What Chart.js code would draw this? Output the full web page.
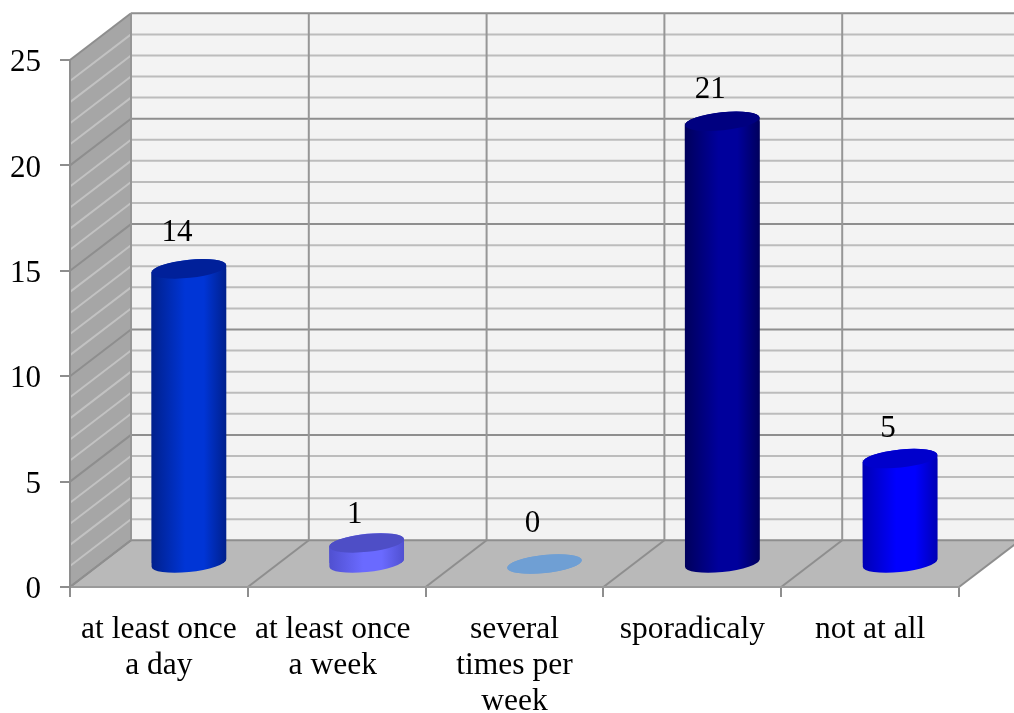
<!DOCTYPE html>
<html>
<head>
<meta charset="utf-8">
<title>Frequency</title>
<script src="https://cdn.jsdelivr.net/npm/chart.js@4"></script>
<style>
  html, body { margin: 0; padding: 0; background: #fff; overflow: hidden; }
  canvas { display: block; }
</style>
</head>
<body>
<canvas id="freq-chart" width="1014" height="713"></canvas>
<script>
// values
const categories = [
  ["at least once", "a day"],
  ["at least once ", "a week "],
  ["several", "times per", "week"],
  "sporadicaly",
  "not at all",
];
const values = [14, 1, 0, 21, 5];
const yMax = 25;
const yStep = 5;

// colours of each cylinder: edge, centre, top cap
const edgeColors = ["#00208c", "#5050d0", "#6f9fd4", "#00005c", "#0000b4"];
const midColors = ["#0035d6", "#6a6aff", "#6f9fd4", "#00009c", "#0000ff"];
const capColors = ["#00209a", "#4e4ec6", "#6f9fd4", "#000080", "#0000cc"];

// label height above the cap
const labelLift = [36, 28, 40, 31, 30];

// 3d box depth
const depthX = 61;
const depthY = -46.7;
// cylinders stand in the middle of the box
const barShiftX = 30;
const barShiftY = -23;
const capTilt = (-6 * Math.PI) / 180;
const capRy = 9;

const serif = "'Liberation Serif', 'Times New Roman', serif";

function bodyFill(c) {
  const chart = c.chart;
  if (!chart.chartArea) return midColors[c.dataIndex];
  const cx = chart.scales.x.getPixelForValue(c.dataIndex);
  const hw = 37.5;
  const g = chart.ctx.createLinearGradient(cx - hw, 0, cx + hw, 0);
  g.addColorStop(0, edgeColors[c.dataIndex]);
  g.addColorStop(0.45, midColors[c.dataIndex]);
  g.addColorStop(0.7, midColors[c.dataIndex]);
  g.addColorStop(1, edgeColors[c.dataIndex]);
  return g;
}

function silhouette(ctx, bar) {
  const rx = bar.width / 2;
  const t0 = Math.atan2(-capRy * Math.sin(capTilt), rx * Math.cos(capTilt));
  ctx.moveTo(bar.x - rx, bar.y);
  ctx.ellipse(bar.x, bar.y, rx, capRy, capTilt, Math.PI + t0, t0);
  ctx.ellipse(bar.x, bar.base, rx, capRy, capTilt, t0, Math.PI + t0);
  ctx.closePath();
}

function line(ctx, x1, y1, x2, y2) {
  ctx.beginPath();
  ctx.moveTo(x1, y1);
  ctx.lineTo(x2, y2);
  ctx.stroke();
}

// back wall, side wall and floor
const boxPlugin = {
  id: "box",
  beforeDraw(chart) {
    const { ctx, chartArea: a, scales } = chart;
    const y = scales.y;
    const step = (a.right - a.left) / categories.length;
    const zero = y.getPixelForValue(0);
    const top = y.getPixelForValue(yMax);

    ctx.save();
    ctx.fillStyle = "#f3f3f3";
    ctx.fillRect(a.left + depthX, top + depthY, a.right - a.left, zero - top);

    ctx.fillStyle = "#a6a6a6";
    ctx.beginPath();
    ctx.moveTo(a.left, top);
    ctx.lineTo(a.left + depthX, top + depthY);
    ctx.lineTo(a.left + depthX, zero + depthY);
    ctx.lineTo(a.left, zero);
    ctx.closePath();
    ctx.fill();

    ctx.fillStyle = "#b9b9b9";
    ctx.beginPath();
    ctx.moveTo(a.left, zero);
    ctx.lineTo(a.right, zero);
    ctx.lineTo(a.right + depthX, zero + depthY);
    ctx.lineTo(a.left + depthX, zero + depthY);
    ctx.closePath();
    ctx.fill();

    // horizontal lines, one per unit
    ctx.lineWidth = 2;
    for (let v = 1; v <= yMax; v++) {
      if (v % yStep === 0) continue;
      const py = y.getPixelForValue(v);
      ctx.strokeStyle = "#bcbcbc";
      line(ctx, a.left + depthX, py + depthY, a.right + depthX, py + depthY);
      ctx.strokeStyle = "#c2c2c2";
      line(ctx, a.left, py, a.left + depthX, py + depthY);
    }
    for (let v = 0; v <= yMax; v += yStep) {
      const py = y.getPixelForValue(v);
      ctx.strokeStyle = "#8e8e8e";
      line(ctx, a.left + depthX, py + depthY, a.right + depthX, py + depthY);
      line(ctx, a.left, py, a.left + depthX, py + depthY);
    }

    // verticals on the back wall and their lines across the floor
    for (let i = 0; i <= categories.length; i++) {
      const px = a.left + i * step;
      ctx.strokeStyle = "#969696";
      line(ctx, px + depthX, top + depthY, px + depthX, zero + depthY);
      ctx.strokeStyle = "#8e8e8e";
      line(ctx, px, zero, px + depthX, zero + depthY);
    }
    ctx.restore();
  },
};

// turns the flat bars into cylinders standing inside the box
const cylinderPlugin = {
  id: "cylinders",
  beforeDatasetsDraw(chart) {
    const { ctx } = chart;
    const bars = chart.getDatasetMeta(0).data;
    ctx.save();
    ctx.translate(barShiftX, barShiftY);
    ctx.save();
    ctx.beginPath();
    bars.forEach((bar) => silhouette(ctx, bar));
    ctx.clip();
  },
  afterDatasetsDraw(chart) {
    const { ctx } = chart;
    const bars = chart.getDatasetMeta(0).data;
    ctx.restore();
    bars.forEach((bar, i) => {
      const rx = bar.width / 2;
      ctx.fillStyle = bar.options.backgroundColor;
      ctx.beginPath();
      silhouette(ctx, bar);
      ctx.fill();
      ctx.fillStyle = capColors[i];
      ctx.beginPath();
      ctx.ellipse(bar.x, bar.y, rx, capRy, capTilt, 0, Math.PI * 2);
      ctx.fill();
    });
    ctx.restore();

    ctx.save();
    ctx.font = "31px " + serif;
    ctx.fillStyle = "#000";
    ctx.textAlign = "center";
    ctx.textBaseline = "middle";
    bars.forEach((bar, i) => {
      ctx.fillText(String(values[i]), bar.x + barShiftX - 12, bar.y + barShiftY - labelLift[i]);
    });
    ctx.restore();
  },
};

new Chart(document.getElementById("freq-chart"), {
  type: "bar",
  data: {
    labels: categories,
    datasets: [
      {
        data: values,
        backgroundColor: bodyFill,
        borderWidth: 0,
        barPercentage: 0.422,
        categoryPercentage: 1,
        clip: false,
      },
    ],
  },
  options: {
    responsive: false,
    animation: false,
    layout: { padding: { top: 60, right: 55, left: 0, bottom: 0 } },
    plugins: { legend: { display: false }, tooltip: { enabled: false } },
    scales: {
      x: {
        afterFit(scale) {
          scale.height = 126;
        },
        border: { color: "#9a9a9a", width: 2 },
        grid: { drawOnChartArea: false, color: "#8e8e8e", lineWidth: 2, tickLength: 10 },
        ticks: {
          color: "#000",
          font: { family: serif, size: 31.5, lineHeight: 1.143 },
          maxRotation: 0,
          autoSkip: false,
          padding: 15,
        },
      },
      y: {
        min: 0,
        max: yMax,
        afterFit(scale) {
          scale.width = 70;
        },
        border: { color: "#8e8e8e", width: 2 },
        grid: { drawOnChartArea: false, color: "#8e8e8e", lineWidth: 2, tickLength: 10 },
        ticks: {
          stepSize: yStep,
          color: "#000",
          font: { family: serif, size: 31 },
          padding: 19,
          labelOffset: 3,
        },
      },
    },
  },
  plugins: [boxPlugin, cylinderPlugin],
});
</script>
</body>
</html>
